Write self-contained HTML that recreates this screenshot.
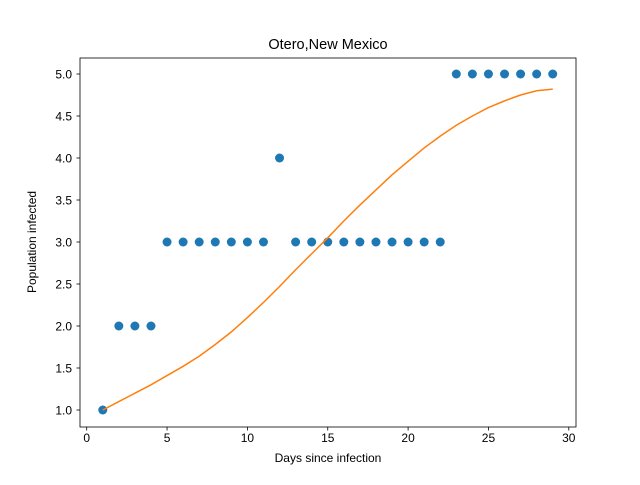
<!DOCTYPE html>
<html><head><meta charset="utf-8"><style>
body{margin:0;background:#fff;}
svg{font-family:"Liberation Sans","DejaVu Sans",sans-serif;}
</style></head><body>
<svg id="chart" width="640" height="480" xmlns="http://www.w3.org/2000/svg">
<rect width="640" height="480" fill="#fff"/>
<text x="328" y="49" font-size="14.5" text-anchor="middle">Otero,New Mexico</text>
<g id="plot"></g>
<rect x="80" y="58" width="496" height="369" fill="none" stroke="#000" stroke-width="0.8"/>
<text x="328" y="467" font-size="12" text-anchor="middle" transform="translate(0,-5)">Days since infection</text>
<text x="39" y="242" font-size="12" text-anchor="middle" transform="rotate(-90 39 242) translate(0,-3)">Population infected</text>
</svg>
<script>
const days=[1,2,3,4,5,6,7,8,9,10,11,12,13,14,15,16,17,18,19,20,21,22,23,24,25,26,27,28,29];
const observed=[1,2,2,2,3,3,3,3,3,3,3,4,3,3,3,3,3,3,3,3,3,3,5,5,5,5,5,5,5];
const fitted=[1.0,1.1,1.2,1.3,1.41,1.52,1.64,1.78,1.93,2.1,2.28,2.47,2.67,2.86,3.05,3.25,3.44,3.62,3.8,3.96,4.12,4.26,4.39,4.5,4.6,4.68,4.75,4.8,4.82];
const xTicks=[0,5,10,15,20,25,30];
const yTicks=[1.0,1.5,2.0,2.5,3.0,3.5,4.0,4.5,5.0];
const X=v=>86.7+v*16.07;
const Y=v=>410-(v-1)*84;
const NS="http://www.w3.org/2000/svg";
const g=document.getElementById('plot');
function mk(t,a){const e=document.createElementNS(NS,t);for(const k in a)e.setAttribute(k,a[k]);g.appendChild(e);return e;}
xTicks.forEach(t=>{
  const l=mk('line',{x1:X(t),x2:X(t),y1:427,y2:430.5,stroke:'#000','stroke-width':0.8});
  
  
  const s=mk('text',{x:X(t),y:442,'font-size':12,'text-anchor':'middle'});s.textContent=t;
  
  
});
yTicks.forEach(t=>{
  const l=mk('line',{x1:76.5,x2:80,y1:Y(t),y2:Y(t),stroke:'#000','stroke-width':0.8});
  
  
  const s=mk('text',{x:72,y:Y(t)+4.5,'font-size':12,'text-anchor':'end'});s.textContent=t.toFixed(1);
  
  
});
days.forEach((d,i)=>{
  const c=mk('circle',{cx:X(d),cy:Y(observed[i]),r:4.5,fill:'#1f77b4'});
  
  
});
const p=mk('polyline',{points:days.map((d,i)=>X(d)+','+Y(fitted[i])).join(' '),fill:'none',stroke:'#ff7f0e','stroke-width':1.5});


</script>
</body></html>
